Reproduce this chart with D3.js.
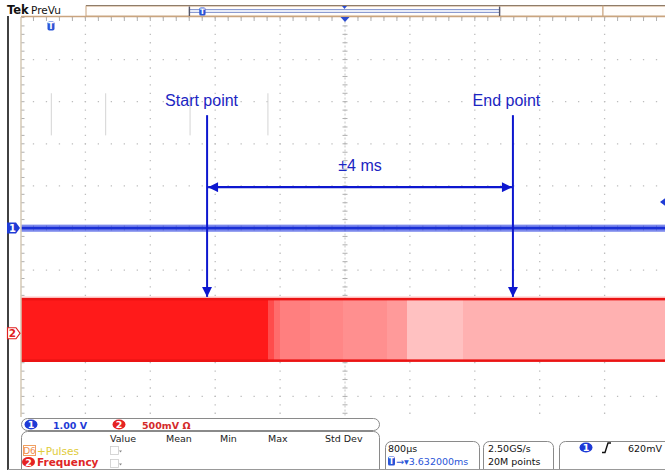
<!DOCTYPE html>
<html>
<head>
<meta charset="utf-8">
<title>Tek PreVu</title>
<style>
  body { margin: 0; background: #fff; }
  svg { display: block; font-family: "DejaVu Sans", Verdana, sans-serif; }
  .grid { stroke: #bdbdbd; stroke-width: 1.3; }
  .tick { stroke: #b0b0b0; stroke-width: 1; }
  .note { fill: #1b25c2; font-family: "Liberation Sans", Arial, sans-serif; font-size: 16px; }
  .ro { font-size: 9.5px; }
  .box { fill: #fff; stroke: #8a8a8a; stroke-width: 1; }
</style>
</head>
<body>
<div id="viz"></div>
<script src="https://d3js.org/d3.v7.min.js"></script>
<script>
(function() {

  // horizontal: 800 us/div, 10 divisions, trigger at centre (ms)
  var timeDomain = [-4, 4];
  var divDomain = [-5, 5];
  var xMajor = [-4, -3.2, -2.4, -1.6, -0.8, 0, 0.8, 1.6, 2.4, 3.2, 4];
  var yMajor = [-5, -4, -3, -2, -1, 0, 1, 2, 3, 4, 5];

  // channel 1: 1.00 V/div, ground at 0 div, noise envelope (div)
  var ch1Level = 0, ch1Noise = [-0.09, 0.08];
  // channel 2: 500 mV/div, ground at -2.5 div, band envelope (div)
  var ch2Pos = -2.5, ch2Band = [-3.18, -1.66];
  // channel 2 persistence intensity: [from ms, to ms, intensity]
  var ch2Shade = [
    [-4.0, -0.95, 1.0],
    [-0.95, -0.88, 0.78],
    [-0.88, -0.80, 0.64],
    [-0.80, -0.43, 0.56],
    [-0.43, -0.02, 0.53],
    [-0.02, 0.52, 0.49],
    [0.52, 0.76, 0.44],
    [0.76, 1.45, 0.27],
    [1.45, 4.2, 0.34]
  ];
  // faint persistence glitches (ms) and their extent (div)
  var glitchTimes = [-3.62, -2.95, -1.91, -0.95];
  var glitchSpan = [2.2, 3.2];
  var trigLevel = 0.62;   // V on ch1

  // annotations
  var startT = -1.70, endT = 2.07;
  var arrowTop = 2.68, spanY = 0.97;

  // PreVu record window (fraction of record)
  var prevuWindow = [0.2, 0.8], prevuTrig = 0.5;

  var width = 665, height = 470;

  var x = d3.scaleLinear().domain(timeDomain).range([20.5, 669.5]);
  var y = d3.scaleLinear().domain(divDomain).range([438.5, 17.5]);
  var dx = x(0.8) - x(0), dy = y(0) - y(1);
  var shade = d3.interpolateRgb("#ffffff", "#ff1a1a");

  var svg = d3.select("#viz").append("svg")
      .attr("width", width)
      .attr("height", height);

  var defs = svg.append("defs");
  defs.append("clipPath").attr("id", "scr")
    .append("rect").attr("x", 21).attr("y", 17).attr("width", 650).attr("height", 400);
  defs.append("marker")
      .attr("id", "ah").attr("viewBox", "0 0 10 10").attr("refX", 10).attr("refY", 5)
      .attr("markerUnits", "userSpaceOnUse").attr("markerWidth", 11).attr("markerHeight", 10)
      .attr("orient", "auto-start-reverse")
    .append("path").attr("d", "M0,0L10,5L0,10z").attr("fill", "#0d17cf");

  // ---------- graticule ----------
  var g = svg.append("g").attr("clip-path", "url(#scr)");

  g.selectAll(".vgrid").data(xMajor.filter(function(d) { return d !== 0; }))
    .enter().append("line").attr("class", "grid")
      .attr("x1", function(d) { return x(d); }).attr("x2", function(d) { return x(d); })
      .attr("y1", y(5)).attr("y2", y(-5))
      .attr("stroke-dasharray", "1.3," + (dy / 5 - 1.3))
      .attr("stroke-dashoffset", 0.65);

  g.selectAll(".hgrid").data(yMajor.filter(function(d) { return d !== 0; }))
    .enter().append("line").attr("class", "grid")
      .attr("y1", function(d) { return y(d); }).attr("y2", function(d) { return y(d); })
      .attr("x1", x(-4)).attr("x2", x(4))
      .attr("stroke-dasharray", "1.3," + (dx / 5 - 1.3))
      .attr("stroke-dashoffset", 0.65);

  // centre cross with minor ticks
  var minorY = d3.range(-25, 26).map(function(d) { return d / 5; });
  var minorX = d3.range(-25, 26).map(function(d) { return d * 0.16; });
  g.append("line").attr("class", "tick").attr("x1", x(0)).attr("x2", x(0))
    .attr("y1", y(5)).attr("y2", y(-5)).attr("stroke-dasharray", "2,2").attr("opacity", 0.7);
  g.append("line").attr("class", "tick").attr("y1", y(0)).attr("y2", y(0))
    .attr("x1", x(-4)).attr("x2", x(4)).attr("stroke-dasharray", "2,2").attr("opacity", 0.7);
  g.selectAll(".cty").data(minorY)
    .enter().append("line").attr("class", "tick")
      .attr("x1", x(0) - 2.5).attr("x2", x(0) + 2.5)
      .attr("y1", function(d) { return y(d); }).attr("y2", function(d) { return y(d); });
  g.selectAll(".ctx").data(minorX)
    .enter().append("line").attr("class", "tick")
      .attr("y1", y(0) - 2.5).attr("y2", y(0) + 2.5)
      .attr("x1", function(d) { return x(d); }).attr("x2", function(d) { return x(d); });
  // edge ticks
  g.selectAll(".lty").data(minorY)
    .enter().append("line").attr("class", "tick")
      .attr("x1", x(-4)).attr("x2", x(-4) + 4)
      .attr("y1", function(d) { return y(d); }).attr("y2", function(d) { return y(d); });
  g.selectAll(".ttx").data(minorX)
    .enter().append("line").attr("class", "tick")
      .attr("y1", y(5)).attr("y2", y(5) + 3.5)
      .attr("x1", function(d) { return x(d); }).attr("x2", function(d) { return x(d); });

  // glitches
  g.selectAll(".gl").data(glitchTimes).enter().append("line")
    .attr("x1", function(d) { return x(d); }).attr("x2", function(d) { return x(d); })
    .attr("y1", y(glitchSpan[1])).attr("y2", y(glitchSpan[0]))
    .attr("stroke", "#d4d4d4").attr("stroke-width", 1);

  // ---------- channel 2 band ----------
  g.selectAll(".sh").data(ch2Shade).enter().append("rect")
    .attr("x", function(d) { return x(d[0]); })
    .attr("width", function(d) { return x(d[1]) - x(d[0]); })
    .attr("y", y(ch2Band[1]))
    .attr("height", y(ch2Band[0]) - y(ch2Band[1]))
    .attr("fill", function(d) { return shade(d[2]); })
    .attr("shape-rendering", "crispEdges");
  g.append("rect").attr("x", x(-4)).attr("width", x(4) - x(-4))
    .attr("y", y(ch2Band[1]) - 1.5).attr("height", 1.5).attr("fill", "#ffa0a0").attr("opacity", 0.5);
  [ch2Band[1], ch2Band[0]].forEach(function(v, i) {
    g.append("rect").attr("x", x(-4)).attr("width", x(4) - x(-4))
      .attr("y", y(v) + (i === 0 ? 0 : -2.5)).attr("height", 2.5)
      .attr("fill", "#ea1414");
  });

  // ---------- channel 1 trace ----------
  g.append("rect").attr("x", x(-4)).attr("width", x(4) - x(-4))
    .attr("y", y(ch1Noise[1])).attr("height", y(ch1Noise[0]) - y(ch1Noise[1]))
    .attr("fill", "#4457e4").attr("opacity", 0.7);
  g.append("rect").attr("x", x(-4)).attr("width", x(4) - x(-4))
    .attr("y", y(ch1Level) - 1.2).attr("height", 2.6)
    .attr("fill", "#1a2fd6");

  // ---------- frame ----------
  svg.append("line").attr("x1", 8).attr("x2", 8).attr("y1", 16).attr("y2", 470)
    .attr("stroke", "#111").attr("stroke-width", 1.6);
  svg.append("line").attr("x1", 21).attr("x2", 21).attr("y1", 17).attr("y2", 417)
    .attr("stroke", "#d5c8b5").attr("stroke-width", 1.5);
  svg.append("line").attr("x1", 21).attr("x2", 665).attr("y1", 16.5).attr("y2", 16.5)
    .attr("stroke", "#c9a47f").attr("stroke-width", 1.5);

  // channel markers
  var m1 = svg.append("g").attr("transform", "translate(7," + y(ch1Level) + ")");
  m1.append("path").attr("d", "M0,-5.5L9,-5.5L13,0L9,5.5L0,5.5z").attr("fill", "#1f3bd6");
  m1.append("text").attr("x", 5.5).attr("y", 3.8).attr("text-anchor", "middle")
    .attr("fill", "#fff").attr("font-size", 10).attr("font-weight", "bold").text("1");
  var m2 = svg.append("g").attr("transform", "translate(7," + y(ch2Pos) + ")");
  m2.append("path").attr("d", "M0.5,-5.5L9,-5.5L13,0L9,5.5L0.5,5.5z")
    .attr("fill", "#fff").attr("stroke", "#e02020").attr("stroke-width", 1.2);
  m2.append("text").attr("x", 5.5).attr("y", 4).attr("text-anchor", "middle")
    .attr("fill", "#e02020").attr("font-size", 10.5).attr("font-weight", "bold").text("2");

  // trigger level marker
  svg.append("path")
    .attr("d", "M" + 660 + "," + y(trigLevel) + "l6,-4.5l0,9z")
    .attr("fill", "#1f3bd6");

  // ---------- PreVu bar ----------
  var pv = d3.scaleLinear().domain([0, 1]).range([86, 603]);
  svg.append("text").attr("x", 7).attr("y", 14).attr("font-size", 11.5).attr("font-weight", "bold")
    .attr("fill", "#111").text("Tek");
  svg.append("text").attr("x", 31).attr("y", 13.5).attr("font-size", 10.5)
    .attr("fill", "#111").text("PreVu");
  svg.append("line").attr("x1", 86).attr("x2", 665).attr("y1", 5.5).attr("y2", 5.5)
    .attr("stroke", "#555").attr("stroke-width", 1);
  svg.append("rect").attr("x", pv(0)).attr("y", 6).attr("width", pv(1) - pv(0)).attr("height", 10)
    .attr("fill", "#fffdfb").attr("stroke", "#c9a47f").attr("stroke-width", 1);
  svg.append("rect").attr("x", pv(1)).attr("y", 6).attr("width", 70).attr("height", 10)
    .attr("fill", "#fffdfb").attr("stroke", "#c9a47f").attr("stroke-width", 1);
  svg.append("rect").attr("x", pv(prevuWindow[0])).attr("y", 9.5)
    .attr("width", pv(prevuWindow[1]) - pv(prevuWindow[0])).attr("height", 3)
    .attr("fill", "#e8ecf8").attr("stroke", "#8c9bd0").attr("stroke-width", 1);
  prevuWindow.forEach(function(f) {
    svg.append("line").attr("x1", pv(f)).attr("x2", pv(f)).attr("y1", 6.5).attr("y2", 16)
      .attr("stroke", "#556").attr("stroke-width", 1.4);
  });
  svg.append("path").attr("d", "M" + (pv(prevuTrig) - 2.5) + ",6l5,0l-2.5,3z").attr("fill", "#2a4bd0");
  svg.append("path").attr("d", "M" + (x(0) - 4.5) + ",17l9,0l-4.5,5z").attr("fill", "#2a4bd0");
  // T markers
  function tMark(cx, cy, s) {
    var t = svg.append("g").attr("transform", "translate(" + cx + "," + cy + ")");
    t.append("rect").attr("x", -3.5 * s).attr("y", -4.5 * s).attr("width", 7 * s).attr("height", 9 * s)
      .attr("rx", 1.8 * s).attr("fill", "#2a55d8");
    t.append("text").attr("y", 3.3 * s).attr("text-anchor", "middle").attr("fill", "#fff")
      .attr("font-size", 8.5 * s).attr("font-weight", "bold").text("T");
  }
  tMark(pv(prevuWindow[0]) + 13, 11.5, 0.9);
  tMark(51, 26, 1);

  // ---------- annotations ----------
  [startT, endT].forEach(function(t) {
    svg.append("line").attr("x1", x(t)).attr("x2", x(t))
      .attr("y1", y(arrowTop)).attr("y2", y(ch2Band[1]) - 1)
      .attr("stroke", "#0d17cf").attr("stroke-width", 2)
      .attr("marker-end", "url(#ah)");
  });
  svg.append("line").attr("x1", x(startT) + 1).attr("x2", x(endT) - 1)
    .attr("y1", y(spanY)).attr("y2", y(spanY))
    .attr("stroke", "#0d17cf").attr("stroke-width", 2.4)
    .attr("marker-start", "url(#ah)").attr("marker-end", "url(#ah)");
  svg.append("text").attr("class", "note").attr("x", x(startT) - 5.5).attr("y", 105.5)
    .attr("text-anchor", "middle").text("Start point");
  svg.append("text").attr("class", "note").attr("x", x(endT) - 6.5).attr("y", 105.5)
    .attr("text-anchor", "middle").text("End point");
  svg.append("text").attr("class", "note").attr("x", (x(startT) + x(endT)) / 2 + 0).attr("y", 170.5)
    .attr("text-anchor", "middle").text("\u00b14 ms");

  // ---------- readouts ----------
  svg.append("rect").attr("class", "box").attr("x", 21.5).attr("y", 418.5).attr("width", 358).attr("height", 12).attr("rx", 6);
  svg.append("rect").attr("class", "box").attr("x", 21.5).attr("y", 431.5).attr("width", 358).attr("height", 50).attr("rx", 6);
  svg.append("rect").attr("class", "box").attr("x", 385.5).attr("y", 441.5).attr("width", 94).attr("height", 40).attr("rx", 6);
  svg.append("rect").attr("class", "box").attr("x", 483.5).attr("y", 441.5).attr("width", 70).attr("height", 40).attr("rx", 6);
  svg.append("rect").attr("class", "box").attr("x", 559.5).attr("y", 441.5).attr("width", 120).attr("height", 40).attr("rx", 6);
  svg.append("line").attr("x1", 8).attr("x2", 665).attr("y1", 469.5).attr("y2", 469.5)
    .attr("stroke", "#999").attr("stroke-width", 1);

  function badge(cx, cy, color, label) {
    svg.append("ellipse").attr("cx", cx).attr("cy", cy).attr("rx", 6.5).attr("ry", 5).attr("fill", color);
    svg.append("text").attr("x", cx).attr("y", cy + 3.5).attr("text-anchor", "middle")
      .attr("fill", "#fff").attr("font-size", 9.5).attr("font-weight", "bold").text(label);
  }
  badge(31, 424.5, "#1f3bd6", "1");
  svg.append("text").attr("class", "ro").attr("x", 53).attr("y", 428.5).attr("fill", "#1f3bd6")
    .attr("font-weight", "bold").text("1.00 V");
  badge(119, 424.5, "#e52222", "2");
  svg.append("text").attr("class", "ro").attr("x", 142).attr("y", 428.5).attr("fill", "#d42a2a")
    .attr("font-weight", "bold").text("500mV \u03a9");

  var statCols = ["Value", "Mean", "Min", "Max", "Std Dev"];
  var statX = [110, 166, 220, 268, 325];
  statCols.forEach(function(s, i) {
    svg.append("text").attr("class", "ro").attr("x", statX[i]).attr("y", 441.5)
      .attr("fill", "#222").text(s);
  });
  svg.append("rect").attr("x", 23.5).attr("y", 445.5).attr("width", 12).attr("height", 10)
    .attr("fill", "#fff").attr("stroke", "#f0a060").attr("stroke-width", 1);
  svg.append("text").attr("x", 29.5).attr("y", 454).attr("text-anchor", "middle").attr("font-size", 9)
    .attr("fill", "#f09050").text("D6");
  svg.append("text").attr("x", 37).attr("y", 454.5).attr("font-size", 10.5)
    .attr("fill", "#e0cc3a").text("+Pulses");
  badge(28.5, 462, "#e52222", "2");
  svg.append("text").attr("x", 37).attr("y", 466).attr("font-size", 10.5).attr("font-weight", "bold")
    .attr("fill", "#e02525").text("Frequency");
  [446.5, 459.5].forEach(function(yy) {
    svg.append("rect").attr("x", 110.5).attr("y", yy).attr("width", 8).attr("height", 8)
      .attr("fill", "#fff").attr("stroke", "#ccc").attr("stroke-width", 0.8);
    svg.append("path").attr("d", "M" + 119 + "," + (yy + 4) + "l3,0l-1.5,2z").attr("fill", "#888");
  });

  svg.append("text").attr("class", "ro").attr("x", 388).attr("y", 452).attr("fill", "#111").text("800\u00b5s");
  svg.append("rect").attr("x", 388).attr("y", 456.5).attr("width", 7).attr("height", 9).attr("rx", 1.5).attr("fill", "#2a55d8");
  svg.append("text").attr("x", 391.5).attr("y", 464).attr("text-anchor", "middle").attr("font-size", 8)
    .attr("font-weight", "bold").attr("fill", "#fff").text("T");
  svg.append("text").attr("class", "ro").attr("x", 396).attr("y", 464.5).attr("fill", "#2a55d8")
    .text("\u2192\u25be3.632000ms");
  svg.append("text").attr("class", "ro").attr("x", 488).attr("y", 452).attr("fill", "#111").text("2.50GS/s");
  svg.append("text").attr("class", "ro").attr("x", 488).attr("y", 464.5).attr("fill", "#111").text("20M points");
  badge(586, 447.5, "#1f3bd6", "1");
  svg.append("path").attr("d", "M602,452.5L605,452.5L608,443L611,443")
    .attr("fill", "none").attr("stroke", "#111").attr("stroke-width", 1.4);
  svg.append("text").attr("class", "ro").attr("x", 628).attr("y", 451.5).attr("fill", "#111").text("620mV");

})();
</script>
</body>
</html>
